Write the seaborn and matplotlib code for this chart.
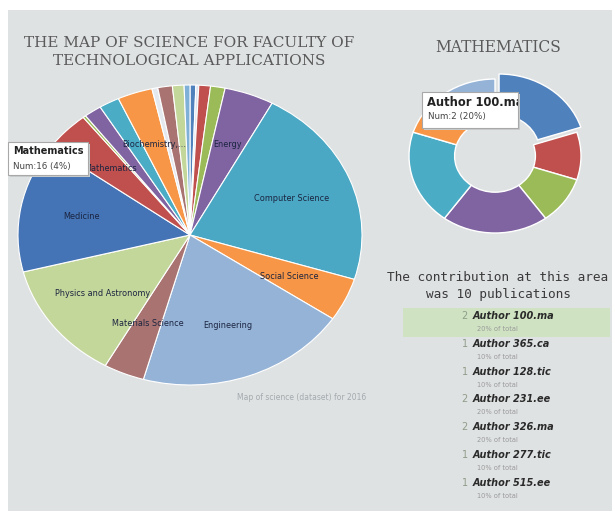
import matplotlib
matplotlib.use("Agg")
import matplotlib.pyplot as plt
import seaborn as sns
from matplotlib.patches import Rectangle

# ---------------- data ----------------
fields = ["", "", "", "", "Energy", "Computer Science", "Social Science",
          "Engineering", "Materials Science", "Physics and Astronomy",
          "Medicine", "Mathematics", "", "", "", "Biochemistry,\u2026",
          "", "", "", ""]
field_counts = [2, 1, 4, 5, 17, 80, 17, 73, 14, 47, 51, 16, 1, 6, 7, 12, 2, 5, 4, 2]
field_colors = ["#4f81bd", "#dce6f2", "#c0504d", "#9bbb59", "#8064a2", "#4aa8c4",
                "#f79646", "#95b3d7", "#a87370", "#c4d79b", "#4474b5", "#c0504d",
                "#9bbb59", "#8064a2", "#4bacc6", "#f79646", "#e4e9f0", "#a87370",
                "#c4d79b", "#7fb0d8"]

authors = ["Author 100.ma", "Author 365.ca", "Author 128.tic", "Author 231.ee",
           "Author 326.ma", "Author 277.tic", "Author 515.ee"]
author_counts = [2, 1, 1, 2, 2, 1, 1]
author_colors = ["#4f81bd", "#c0504d", "#9bbb59", "#8064a2", "#4bacc6", "#f79646", "#95b3d7"]

main_title = "THE MAP OF SCIENCE FOR FACULTY OF\nTECHNOLOGICAL APPLICATIONS"
sub_title = "MATHEMATICS"
caption = "Map of science (dataset) for 2016"
tooltip_field = "Mathematics"
tooltip_author = 0

# ---------------- figure ----------------
sns.set_theme(style="white")
plt.rcParams["font.family"] = ["DejaVu Sans"]
W, H = 615, 517
fig = plt.figure(figsize=(W / 100, H / 100), dpi=100)
fig.patch.set_facecolor("white")


def fx(x):
    return x / W


def fy(y):
    return 1 - y / H


fig.add_artist(Rectangle((fx(8), fy(511)), (612 - 8) / W, (511 - 10) / H,
                         transform=fig.transFigure, facecolor="#dfe2e3",
                         edgecolor="none", zorder=0))

# main pie (slightly elliptical like the reference)
cx, cy, rx, ry = 190, 235, 172, 150
ax = fig.add_axes([fx(cx - rx), fy(cy + ry), 2 * rx / W, 2 * ry / H])
wedges, texts = ax.pie(field_counts, labels=fields,
                       colors=sns.color_palette(field_colors),
                       startangle=90, counterclock=False, labeldistance=0.64,
                       wedgeprops=dict(edgecolor="white", linewidth=0.8),
                       textprops=dict(ha="center", va="center", fontsize=5.9,
                                      color="#1b2440"))
ax.set_aspect("auto")
ax.set_xlim(-1, 1)
ax.set_ylim(-1, 1)
ax.axis("off")

# donut
dx_, dy_, drx, dry = 495, 156, 86, 77
ax2 = fig.add_axes([fx(dx_ - 1.1 * drx), fy(dy_ + 1.1 * dry), 2.2 * drx / W, 2.2 * dry / H])
explode = [0.08 if i == tooltip_author else 0 for i in range(len(author_counts))]
ax2.pie(author_counts, colors=sns.color_palette(author_colors), startangle=90,
        counterclock=False, explode=explode,
        wedgeprops=dict(width=0.53, edgecolor="white", linewidth=1))
ax2.set_aspect("auto")
ax2.set_xlim(-1.1, 1.1)
ax2.set_ylim(-1.1, 1.1)
ax2.axis("off")

# titles
fig.text(fx(189), fy(52), main_title, ha="center", va="center", family="DejaVu Serif",
         fontsize=11, color="#5a5a5a", linespacing=1.3)
fig.text(fx(498), fy(47), sub_title, ha="center", va="center", family="DejaVu Serif",
         fontsize=11.2, color="#5a5a5a")
fig.text(fx(302), fy(398), caption, ha="center", va="center", fontsize=5.5, color="#a3aaad")

# tooltip on main pie
ti = fields.index(tooltip_field)
total = sum(field_counts)
fig.add_artist(Rectangle((fx(10), fy(177)), 80 / W, 33 / H, transform=fig.transFigure,
                         facecolor="#c9cccd", edgecolor="none", zorder=5))
fig.add_artist(Rectangle((fx(8), fy(175)), 80 / W, 33 / H, transform=fig.transFigure,
                         facecolor="white", edgecolor="#a8a8a8", linewidth=0.8, zorder=6))
fig.text(fx(13), fy(151), tooltip_field, ha="left", va="center", fontsize=7,
         fontweight="bold", color="#222222", zorder=7)
fig.text(fx(13), fy(166), f"Num:{field_counts[ti]} ({round(100 * field_counts[ti] / total)}%)",
         ha="left", va="center", fontsize=6.3, color="#444444", zorder=7)

# tooltip on donut
atot = sum(author_counts)
fig.add_artist(Rectangle((fx(424), fy(130)), 96 / W, 36 / H, transform=fig.transFigure,
                         facecolor="#c9cccd", edgecolor="none", zorder=5))
box = Rectangle((fx(422), fy(128)), 96 / W, 36 / H, transform=fig.transFigure,
                facecolor="white", edgecolor="#a8a8a8", linewidth=0.8, zorder=6)
fig.add_artist(box)
t1 = fig.text(fx(427), fy(102), authors[tooltip_author], ha="left", va="center",
              fontsize=8.3, fontweight="bold", color="#222222", zorder=7)
t1.set_clip_path(box)
fig.text(fx(428), fy(117), f"Num:{author_counts[tooltip_author]} "
         f"({round(100 * author_counts[tooltip_author] / atot)}%)",
         ha="left", va="center", fontsize=6.3, color="#444444", zorder=7)

# contribution text
fig.text(fx(498), fy(286), f"The contribution at this area\nwas {atot} publications",
         ha="center", va="center", family="DejaVu Sans Mono", fontsize=9.2,
         color="#3a3a3a", linespacing=1.35)

# list
fig.add_artist(Rectangle((fx(403), fy(337)), (610 - 403) / W, 29 / H,
                         transform=fig.transFigure, facecolor="#cfe3c2",
                         edgecolor="none", zorder=1))
for k, (name, n) in enumerate(zip(authors, author_counts)):
    y = 316 + 27.8 * k
    fig.text(fx(468), fy(y), str(n), ha="right", va="center", fontsize=7,
             color="#8f9c88", zorder=3)
    fig.text(fx(473), fy(y), name, ha="left", va="center", fontsize=7,
             fontweight="bold", fontstyle="italic", color="#2a2a2a", zorder=3)
    fig.text(fx(477), fy(y + 13), f"{round(100 * n / atot)}% of total", ha="left",
             va="center", fontsize=4.8, color="#9a9a9a", zorder=3)

fig.savefig("out.png", dpi=100, facecolor=fig.get_facecolor())
